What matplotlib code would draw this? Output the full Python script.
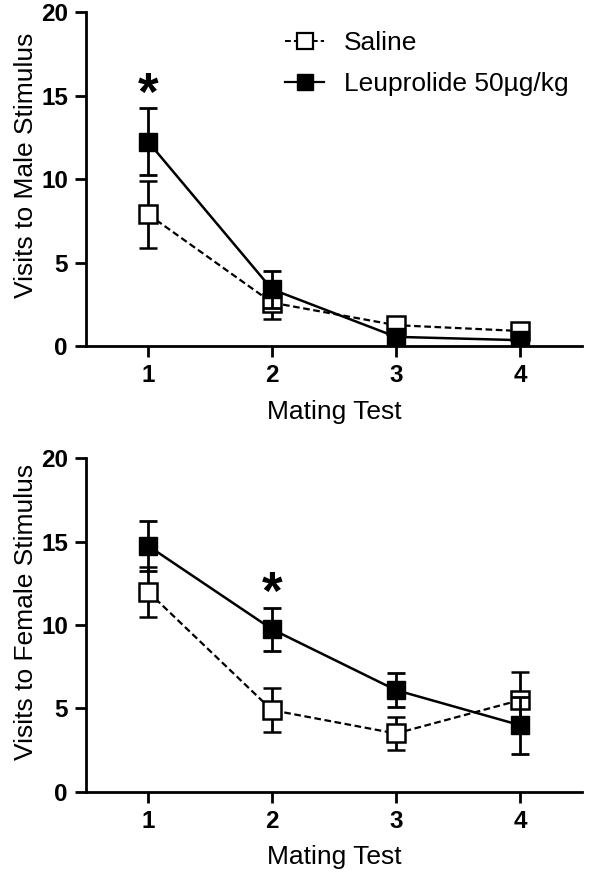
import matplotlib
matplotlib.use("Agg")
import matplotlib.pyplot as plt
from matplotlib.lines import Line2D

plt.rcParams['font.family'] = ['Liberation Sans', 'DejaVu Sans']

tests = [1, 2, 3, 4]

# visits to male stimulus (mean, SEM)
male_saline = [7.9, 2.6, 1.25, 0.9]
male_saline_err = [2.0, 1.0, 0.3, 0.3]
male_leup = [12.25, 3.4, 0.55, 0.35]
male_leup_err = [2.0, 1.1, 0.3, 0.3]

# visits to female stimulus (mean, SEM)
female_saline = [12.0, 4.9, 3.5, 5.5]
female_saline_err = [1.5, 1.3, 1.0, 1.7]
female_leup = [14.75, 9.75, 6.1, 4.0]
female_leup_err = [1.5, 1.3, 1.0, 1.7]

male_sig = [1]
female_sig = [2]

ylabels = ["Visits to Male Stimulus", "Visits to Female Stimulus"]
names = ["Saline", "Leuprolide 50\u00b5g/kg"]

DASH = (0, (3.0, 1.6))


def draw_panel(ax, sal, sal_err, leu, leu_err, sig, ylabel, legend=False):
    ax.errorbar(tests, sal, yerr=sal_err, color='black', ls=DASH, lw=1.6,
                marker='s', ms=12.5, mfc='white', mec='black', mew=1.8,
                elinewidth=2.0, capsize=6.5, capthick=2.0, zorder=3)
    ax.errorbar(tests, leu, yerr=leu_err, color='black', ls='-', lw=1.8,
                marker='s', ms=12.5, mfc='black', mec='black',
                elinewidth=2.0, capsize=6.5, capthick=2.0, zorder=4)
    for t in sig:
        i = tests.index(t)
        top = max(sal[i] + sal_err[i], leu[i] + leu_err[i])
        ax.text(t, top - 0.75, '*', ha='center', va='bottom', fontsize=38,
                fontweight='bold')

    ax.set_xlim(0.5, 4.5)
    ax.set_ylim(0, 20)
    ax.set_xticks(tests)
    ax.set_yticks([0, 5, 10, 15, 20])
    ax.set_xlabel("Mating Test", fontsize=19, labelpad=9)
    ax.set_ylabel(ylabel, fontsize=19)
    ax.yaxis.set_label_coords(-0.097, 0.54)
    for lab in ax.get_xticklabels() + ax.get_yticklabels():
        lab.set_fontweight('bold')
    ax.tick_params(axis='both', labelsize=17.5, width=2.0, length=8, pad=5)
    ax.spines['top'].set_visible(False)
    ax.spines['right'].set_visible(False)
    ax.spines['left'].set_linewidth(2.0)
    ax.spines['bottom'].set_linewidth(2.0)

    if legend:
        handles = [
            Line2D([], [], color='black', ls=DASH, lw=1.4, marker='s', ms=11,
                   mfc='white', mec='black', mew=1.6),
            Line2D([], [], color='black', ls='-', lw=1.6, marker='s', ms=11,
                   mfc='black', mec='black'),
        ]
        ax.legend(handles, names, loc='upper left', bbox_to_anchor=(0.365, 1.0),
                  frameon=False, fontsize=19, handlelength=1.45,
                  handletextpad=0.75, labelspacing=0.65, borderaxespad=0.3)


fig = plt.figure(figsize=(5.89, 8.76), dpi=100)
ax1 = fig.add_axes([0.146, 0.605, 0.842, 0.381])
ax2 = fig.add_axes([0.146, 0.096, 0.842, 0.381])

draw_panel(ax1, male_saline, male_saline_err, male_leup, male_leup_err,
           male_sig, ylabels[0], legend=True)
draw_panel(ax2, female_saline, female_saline_err, female_leup, female_leup_err,
           female_sig, ylabels[1])

fig.savefig("out.png", dpi=100)
